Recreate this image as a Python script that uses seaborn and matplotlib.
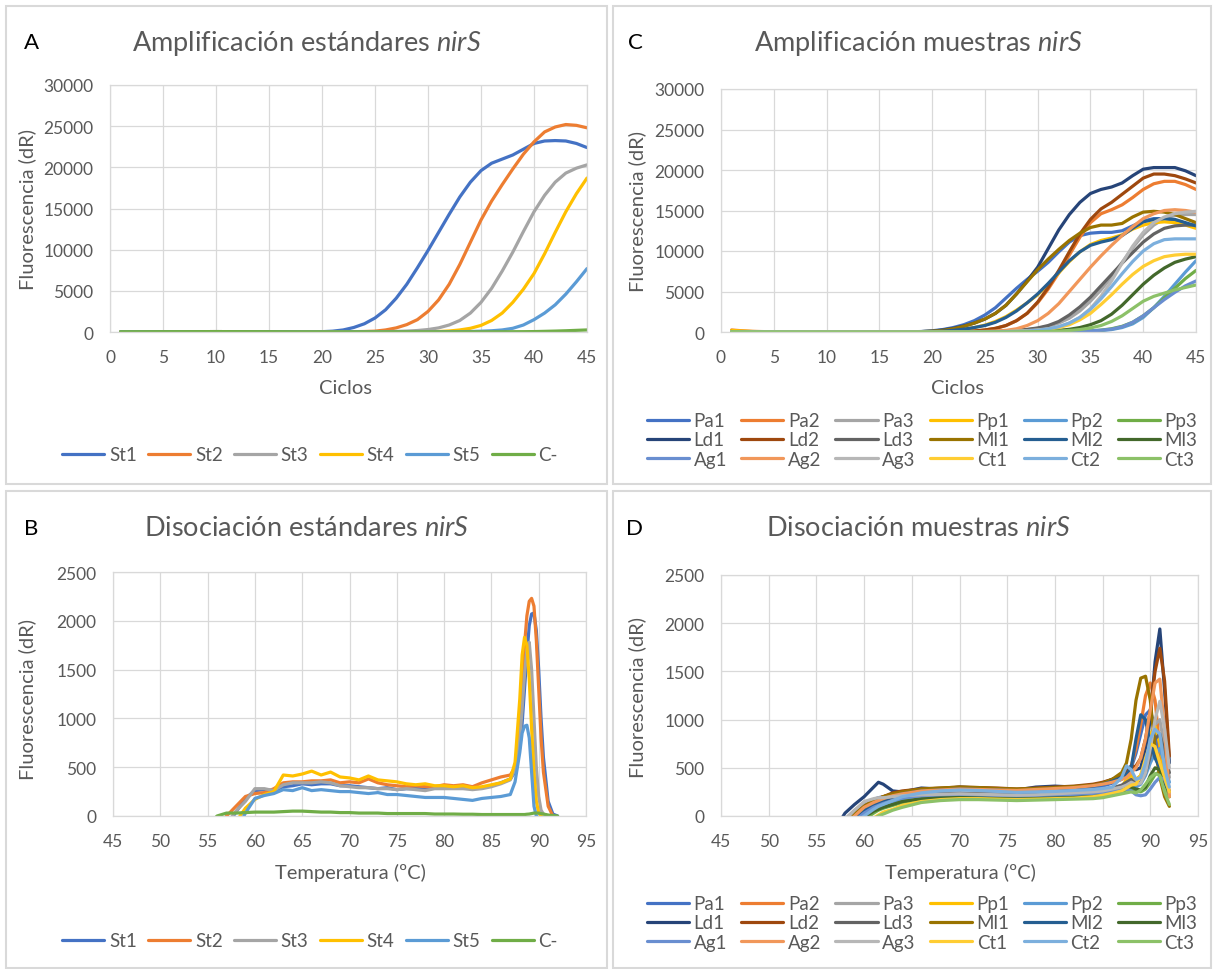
import matplotlib
matplotlib.use("Agg")
import matplotlib.pyplot as plt
import seaborn as sns
import pandas as pd
from matplotlib.lines import Line2D
from matplotlib.patches import Rectangle

# ---------------- data ----------------
CYC_A = [1, 5, 10, 15, 18, 19,
         20, 21, 22, 23, 24, 25, 26, 27, 28, 29,
         30, 31, 32, 33, 34, 35, 36, 37, 38, 39,
         40, 41, 42, 43, 44, 45]
STD_NAMES = ["St1", "St2", "St3", "St4", "St5", "C-"]
STD_COLORS = ["#4472C4", "#ED7D31", "#A5A5A5", "#FFC000", "#5B9BD5", "#70AD47"]
ST1_A = [30, 40, 50, 40, 20, 20,
         40, 100, 250, 550, 1000, 1700, 2700, 4100, 5800, 7800,
         9900, 12100, 14300, 16400, 18200, 19600, 20500, 21000, 21500, 22200,
         22900, 23200, 23250, 23200, 22900, 22400]
ST2_A = [30, 40, 50, 40, 20, 20,
         20, 20, 30, 40, 60, 100, 250, 500, 900, 1500,
         2500, 3900, 5800, 8200, 10900, 13600, 15900, 17900, 19800, 21600,
         23100, 24300, 24900, 25200, 25100, 24800]
ST3_A = [30, 40, 50, 40, 20, 20,
         20, 20, 20, 20, 20, 30, 40, 70, 110, 180,
         300, 500, 850, 1400, 2300, 3600, 5300, 7400, 9700, 12200,
         14600, 16600, 18200, 19300, 19900, 20300]
ST4_A = [30, 40, 50, 40, 20, 20,
         20, 20, 20, 20, 20, 20, 20, 20, 20, 25,
         30, 60, 120, 250, 450, 800, 1400, 2300, 3600, 5200,
         7100, 9500, 12100, 14600, 16800, 18700]
ST5_A = [30, 40, 50, 40, 20, 20,
         20, 20, 20, 20, 20, 20, 20, 20, 20, 20,
         20, 25, 30, 40, 60, 100, 150, 250, 450, 850,
         1500, 2300, 3300, 4600, 6100, 7700]
CNEG_A = [30, 40, 50, 40, 20, 20,
          20, 20, 20, 20, 20, 20, 20, 20, 20, 20,
          20, 20, 20, 20, 20, 20, 25, 30, 35, 40,
          50, 80, 110, 150, 200, 250]

SAMPLE_NAMES = ["Pa1", "Pa2", "Pa3", "Pp1", "Pp2", "Pp3",
                "Ld1", "Ld2", "Ld3", "Ml1", "Ml2", "Ml3",
                "Ag1", "Ag2", "Ag3", "Ct1", "Ct2", "Ct3"]
SAMPLE_COLORS = ["#4472C4", "#ED7D31", "#A5A5A5", "#FFC000", "#5B9BD5", "#70AD47",
                 "#264478", "#9E480E", "#636363", "#997300", "#255E91", "#43682B",
                 "#698ED0", "#F1975A", "#B7B7B7", "#FFCD33", "#7CAFDD", "#8CC168"]

CYC_C = [1, 2, 3, 5, 10, 15, 18, 19,
         20, 21, 22, 23, 24, 25, 26, 27, 28, 29,
         30, 31, 32, 33, 34, 35, 36, 37, 38, 39,
         40, 41, 42, 43, 44, 45]
PA1_C = [60, 40, 20, 10, 0, 0, 20, 60,
         150, 300, 550, 900, 1400, 2100, 3000, 4200, 5400, 6500,
         7500, 8600, 9900, 11100, 11900, 12200, 12300, 12300, 12500, 13100,
         13700, 14000, 14000, 13800, 13400, 13000]
PA2_C = [250, 150, 80, 20, 0, 0, 0, 0,
         0, 10, 30, 60, 120, 250, 450, 800, 1400, 2300,
         3600, 5300, 7300, 9500, 11700, 13500, 14600, 15100, 15700, 16600,
         17600, 18300, 18600, 18600, 18200, 17600]
PA3_C = [50, 30, 20, 10, 0, 0, 0, 0,
         0, 0, 0, 10, 20, 40, 80, 130, 200, 300,
         450, 700, 1100, 1700, 2600, 3800, 5200, 6800, 8600, 10400,
         12000, 13200, 14000, 14400, 14500, 14500]
PP1_C = [200, 120, 60, 10, 0, 0, 10, 20,
         50, 100, 200, 350, 550, 850, 1300, 1900, 2700, 3600,
         4600, 5900, 7300, 8700, 9900, 10800, 11300, 11600, 12000, 12700,
         13200, 13500, 13600, 13500, 13200, 12800]
PP2_C = [50, 30, 20, 10, 0, 0, 0, 0,
         0, 0, 0, 0, 0, 0, 0, 0, 10, 10,
         20, 30, 40, 50, 70, 100, 170, 300, 550, 1000,
         1800, 3000, 4400, 5900, 7400, 8800]
PP3_C = [50, 30, 20, 10, 0, 0, 0, 0,
         0, 0, 0, 0, 0, 0, 0, 0, 10, 10,
         20, 30, 40, 60, 90, 140, 230, 400, 700, 1200,
         2000, 3000, 4200, 5400, 6600, 7600]
LD1_C = [50, 30, 20, 10, 0, 0, 20, 50,
         100, 250, 450, 750, 1100, 1600, 2300, 3300, 4700, 6300,
         8000, 10300, 12600, 14500, 16000, 17100, 17600, 17900, 18400, 19300,
         20100, 20300, 20300, 20300, 19900, 19300]
LD2_C = [50, 30, 20, 10, 0, 0, 0, 0,
         0, 10, 30, 60, 120, 250, 450, 800, 1400, 2300,
         3700, 5500, 7600, 9900, 12100, 13900, 15200, 16000, 17000, 18000,
         19000, 19500, 19500, 19300, 18900, 18400]
LD3_C = [50, 30, 20, 10, 0, 0, 0, 0,
         0, 0, 0, 10, 20, 40, 70, 120, 200, 320,
         500, 800, 1300, 2100, 3100, 4300, 5700, 7100, 8500, 9800,
         11100, 12100, 12800, 13100, 13200, 13200]
ML1_C = [50, 30, 20, 10, 0, 0, 20, 50,
         100, 200, 400, 700, 1100, 1600, 2300, 3300, 4700, 6200,
         7700, 9000, 10200, 11300, 12200, 12900, 13200, 13200, 13400, 14200,
         14800, 14900, 14800, 14500, 14000, 13500]
ML2_C = [50, 30, 20, 10, 0, 0, 10, 20,
         50, 100, 200, 350, 550, 800, 1200, 1800, 2600, 3600,
         4700, 6000, 7400, 8800, 9900, 10700, 11100, 11400, 11900, 12800,
         13600, 13900, 14000, 13900, 13500, 13100]
ML3_C = [50, 30, 20, 10, 0, 0, 0, 0,
         0, 0, 0, 0, 0, 10, 10, 20, 30, 50,
         80, 130, 200, 330, 550, 900, 1400, 2200, 3300, 4600,
         5900, 7000, 7900, 8600, 9000, 9300]
AG1_C = [50, 30, 20, 10, 0, 0, 0, 0,
         0, 0, 0, 0, 0, 0, 0, 0, 10, 10,
         20, 30, 40, 60, 90, 140, 220, 350, 650, 1200,
         2000, 3000, 4000, 4900, 5700, 6300]
AG2_C = [50, 30, 20, 10, 0, 0, 0, 0,
         0, 0, 10, 20, 40, 70, 120, 200, 400, 800,
         1400, 2300, 3500, 5000, 6500, 8000, 9400, 10700, 11900, 13000,
         14000, 14600, 15000, 15100, 15000, 14800]
AG3_C = [50, 30, 20, 10, 0, 0, 0, 0,
         0, 0, 0, 0, 10, 20, 40, 70, 110, 170,
         260, 400, 650, 1100, 1800, 2900, 4400, 6300, 8500, 10600,
         12300, 13500, 14200, 14600, 14800, 14900]
CT1_C = [50, 30, 20, 10, 0, 0, 0, 0,
         0, 0, 0, 0, 10, 20, 30, 50, 80, 130,
         200, 330, 550, 900, 1500, 2300, 3400, 4600, 5900, 7100,
         8100, 8800, 9300, 9500, 9600, 9600]
CT2_C = [50, 30, 20, 10, 0, 0, 0, 0,
         0, 0, 0, 0, 10, 20, 30, 50, 80, 130,
         220, 380, 650, 1100, 1800, 2800, 4100, 5600, 7200, 8700,
         10000, 10900, 11400, 11500, 11500, 11500]
CT3_C = [50, 30, 20, 10, 0, 0, 0, 0,
         0, 0, 0, 0, 0, 0, 10, 10, 20, 30,
         50, 80, 120, 190, 300, 500, 800, 1300, 2000, 2900,
         3800, 4400, 4800, 5200, 5500, 5800]

TEMP_B = [55.5, 56,
          57, 58, 59, 60, 61, 62, 63, 64, 65, 66, 67, 68, 69, 70, 71, 72,
          73, 74, 75, 76, 77, 78, 79, 80, 81, 82, 83, 84, 85, 86, 87,
          87.5, 88, 88.25, 88.5, 88.75, 89, 89.25, 89.5, 89.75, 90, 90.25, 90.5,
          91, 91.5, 92]
ST1_B = [-300, -250,
         -100, 40, 180, 260, 270, 260, 300, 310, 330, 320, 330, 330, 310, 310, 300, 290,
         280, 290, 270, 280, 280, 280, 290, 290, 290, 290, 280, 290, 310, 340, 380,
         450, 700, 950, 1300, 1650, 1950, 2070, 2080, 1900, 1500, 1000, 600,
         150, 20, 0]
ST2_B = [-300, -200,
         0, 100, 200, 230, 240, 280, 340, 350, 350, 360, 360, 370, 340, 350, 340, 380,
         340, 320, 310, 300, 310, 300, 300, 320, 310, 320, 300, 340, 370, 400, 420,
         500, 900, 1300, 1750, 2050, 2200, 2230, 2150, 1800, 1300, 800, 450,
         100, 0, -50]
ST3_B = [-350, -300,
         -80, 50, 150, 280, 280, 260, 320, 340, 340, 340, 350, 340, 310, 300, 290, 290,
         280, 280, 270, 280, 270, 260, 280, 280, 280, 280, 270, 280, 300, 330, 370,
         480, 800, 1100, 1450, 1700, 1780, 1500, 1000, 500, 200, 60, 20,
         0, -20, -30]
ST4_B = [-400, -350,
         -200, -60, 80, 170, 220, 250, 420, 410, 430, 460, 420, 450, 400, 390, 370, 410,
         370, 360, 350, 330, 320, 330, 310, 310, 300, 310, 290, 300, 320, 340, 380,
         550, 1200, 1650, 1830, 1750, 1400, 900, 450, 150, 30, 0, -20,
         -30, -30, -30]
ST5_B = [-500, -450,
         -300, -150, 30, 180, 210, 230, 270, 260, 290, 260, 270, 260, 250, 250, 240, 230,
         240, 220, 220, 210, 200, 190, 190, 190, 180, 170, 160, 180, 190, 200, 220,
         350, 650, 850, 920, 930, 800, 450, 100, 0, -20, -30, -30,
         -30, -30, -30]
CNEG_B = [-50, 0,
          30, 30, 35, 40, 40, 40, 45, 50, 50, 45, 40, 40, 35, 35, 30, 30,
          30, 25, 25, 25, 25, 25, 20, 20, 20, 18, 18, 15, 15, 15, 15,
          15, 15, 15, 15, 18, 20, 25, 30, 30, 30, 25, 20,
          10, 5, 0]

TEMP_D = [57.5, 58, 59, 60, 61, 61.5, 62, 63,
          64, 66, 68, 70, 72, 74, 76, 78,
          80, 82, 84, 85, 86, 87, 87.5, 88,
          88.5, 89, 89.5, 90, 90.5, 91, 91.5, 92]
PA1_D = [-150, -60, 40, 120, 170, 190, 200, 220,
         240, 260, 270, 280, 270, 260, 250, 255,
         265, 275, 290, 310, 340, 380, 420, 500,
         650, 850, 1050, 1100, 900, 600, 350, 250]
PA2_D = [-200, -120, 0, 100, 160, 180, 200, 230,
         250, 270, 280, 290, 285, 280, 270, 280,
         290, 300, 320, 340, 370, 400, 430, 520,
         700, 950, 1250, 1380, 1200, 700, 350, 200]
PA3_D = [-100, -30, 60, 130, 170, 180, 190, 210,
         220, 230, 240, 240, 235, 230, 225, 230,
         240, 250, 260, 270, 290, 310, 330, 340,
         360, 420, 550, 750, 950, 1000, 700, 400]
PP1_D = [-250, -200, -100, -20, 50, 80, 100, 130,
         160, 190, 200, 205, 205, 200, 195, 200,
         205, 210, 220, 235, 260, 300, 380, 420,
         380, 420, 600, 850, 930, 750, 450, 250]
PP2_D = [-250, -180, -80, 0, 60, 90, 110, 150,
         180, 210, 220, 225, 220, 215, 210, 220,
         225, 235, 245, 255, 270, 300, 320, 330,
         300, 330, 420, 550, 650, 700, 550, 350]
PP3_D = [-250, -200, -120, -40, 30, 60, 80, 110,
         140, 170, 185, 190, 190, 185, 180, 185,
         190, 195, 205, 215, 230, 250, 270, 280,
         260, 250, 280, 350, 430, 460, 350, 200]
LD1_D = [-50, 30, 120, 200, 300, 350, 330, 260,
         250, 290, 280, 300, 290, 280, 270, 300,
         310, 300, 320, 340, 380, 420, 460, 520,
         480, 500, 700, 1000, 1600, 1940, 1300, 550]
LD2_D = [-150, -80, 20, 100, 160, 180, 200, 240,
         260, 280, 290, 300, 295, 290, 280, 290,
         300, 310, 330, 350, 380, 420, 450, 500,
         520, 600, 800, 1100, 1500, 1740, 1400, 620]
LD3_D = [-200, -120, -30, 50, 110, 130, 150, 180,
         200, 220, 230, 235, 230, 225, 220, 225,
         230, 240, 250, 265, 290, 320, 350, 380,
         330, 350, 450, 620, 800, 850, 650, 450]
ML1_D = [-150, -80, 20, 100, 160, 180, 200, 230,
         250, 280, 290, 300, 295, 285, 280, 285,
         295, 305, 320, 340, 380, 450, 550, 800,
         1200, 1430, 1450, 1200, 700, 400, 200, 100]
ML2_D = [-200, -120, -20, 60, 120, 140, 160, 200,
         230, 260, 270, 280, 275, 270, 260, 270,
         280, 290, 310, 330, 360, 400, 430, 500,
         800, 1050, 1000, 750, 600, 500, 350, 250]
ML3_D = [-250, -180, -90, -10, 50, 70, 90, 120,
         150, 180, 195, 200, 200, 195, 190, 195,
         200, 210, 220, 235, 250, 270, 290, 300,
         280, 270, 300, 420, 500, 480, 350, 250]
AG1_D = [-200, -140, -50, 30, 90, 110, 130, 160,
         190, 210, 220, 225, 220, 215, 210, 215,
         220, 225, 235, 245, 255, 270, 280, 260,
         220, 210, 220, 280, 350, 400, 380, 250]
AG2_D = [-180, -100, 0, 90, 140, 160, 180, 210,
         230, 260, 270, 280, 275, 270, 265, 275,
         285, 295, 315, 330, 350, 380, 400, 450,
         500, 600, 800, 1100, 1380, 1420, 900, 200]
AG3_D = [-120, -40, 60, 150, 180, 190, 190, 200,
         210, 220, 225, 230, 225, 220, 215, 220,
         230, 240, 250, 260, 280, 300, 320, 350,
         330, 340, 450, 700, 1000, 1190, 900, 500]
CT1_D = [-300, -250, -170, -90, -20, 10, 40, 70,
         110, 150, 170, 180, 180, 175, 170, 175,
         180, 185, 200, 215, 235, 260, 290, 320,
         330, 420, 600, 750, 720, 550, 400, 250]
CT2_D = [-250, -180, -90, 0, 70, 100, 120, 160,
         200, 240, 260, 270, 265, 255, 245, 250,
         255, 265, 275, 285, 300, 400, 520, 480,
         380, 400, 550, 800, 900, 850, 500, 300]
CT3_D = [-300, -260, -180, -100, -30, 0, 20, 60,
         90, 140, 160, 170, 170, 165, 160, 165,
         170, 175, 180, 190, 210, 230, 240, 250,
         240, 270, 330, 400, 440, 420, 250, 120]

STD_A = [ST1_A, ST2_A, ST3_A, ST4_A, ST5_A, CNEG_A]
STD_B = [ST1_B, ST2_B, ST3_B, ST4_B, ST5_B, CNEG_B]
SAM_C = [PA1_C, PA2_C, PA3_C, PP1_C, PP2_C, PP3_C, LD1_C, LD2_C, LD3_C,
         ML1_C, ML2_C, ML3_C, AG1_C, AG2_C, AG3_C, CT1_C, CT2_C, CT3_C]
SAM_D = [PA1_D, PA2_D, PA3_D, PP1_D, PP2_D, PP3_D, LD1_D, LD2_D, LD3_D,
         ML1_D, ML2_D, ML3_D, AG1_D, AG2_D, AG3_D, CT1_D, CT2_D, CT3_D]

# ---------------- style ----------------
sns.set_style("white")
plt.rcParams["font.family"] = ["Lato", "DejaVu Sans"]
plt.rcParams["mathtext.fontset"] = "custom"
plt.rcParams["mathtext.rm"] = "Lato"
plt.rcParams["mathtext.it"] = "Lato:italic"

GRAY_TXT = "#595959"
GRID = "#D9D9D9"
W, H = 1215, 970
fig = plt.figure(figsize=(W / 100, H / 100), dpi=100)
fig.patch.set_facecolor("white")


def box(l, t, r, b):
    return [l / W, 1 - b / H, (r - l) / W, (b - t) / H]


def fx(x):
    return x / W


def fy(y):
    return 1 - y / H


def long_df(x, names, series):
    frames = []
    for n, s in zip(names, series):
        frames.append(pd.DataFrame({"x": x, "y": s, "serie": n}))
    return pd.concat(frames, ignore_index=True)


def draw(ax, x, names, colors, series):
    df = long_df(x, names, series)
    sns.lineplot(data=df, x="x", y="y", hue="serie", hue_order=names,
                 palette=dict(zip(names, colors)), estimator=None, sort=False,
                 linewidth=2.3, legend=False, ax=ax)


def style(ax, xlim, xticks, ylim, yticks):
    ax.set_xlim(*xlim)
    ax.set_ylim(*ylim)
    ax.set_xticks(xticks)
    ax.set_yticks(yticks)
    ax.grid(True, color=GRID, linewidth=0.9)
    ax.set_axisbelow(True)
    for s in ax.spines.values():
        s.set_color(GRID)
        s.set_linewidth(0.9)
    ax.tick_params(length=0, labelsize=12.5, labelcolor=GRAY_TXT)
    ax.tick_params(axis="x", pad=12)
    ax.tick_params(axis="y", pad=12)
    ax.set_xlabel("")
    ax.set_ylabel("")


def legend(ax, names, colors, cx, cy, nrows, colspacing):
    handles = [Line2D([], [], color=c, lw=2.3) for c in colors]
    labels = list(names)
    if nrows > 1:
        order = [r * 6 + c for c in range(6) for r in range(nrows)]
        handles = [handles[i] for i in order]
        labels = [labels[i] for i in order]
    leg = ax.legend(handles, labels, loc="center", bbox_to_anchor=(fx(cx), fy(cy)),
                    bbox_transform=fig.transFigure, ncol=6, frameon=False,
                    fontsize=13.5, handlelength=2.25, handletextpad=0.25,
                    columnspacing=colspacing, labelspacing=0.12, borderpad=0)
    for t in leg.get_texts():
        t.set_color(GRAY_TXT)


def panel_text(letter, title, lx, ty, tx, ylab_xy, xlab, xlab_xy):
    fig.text(fx(lx), fy(ty), letter, ha="center", va="center", fontsize=16, color="black")
    fig.text(fx(tx), fy(ty), title, ha="center", va="center", fontsize=19.5, color=GRAY_TXT)
    fig.text(fx(ylab_xy[0]), fy(ylab_xy[1]), "Fluorescencia (dR)", ha="center", va="center",
             rotation=90, fontsize=14.5, color=GRAY_TXT)
    fig.text(fx(xlab_xy[0]), fy(xlab_xy[1]), xlab, ha="center", va="center",
             fontsize=14.5, color=GRAY_TXT)


# panel frames
for (l, t, r, b) in [(6, 7, 607, 485), (613, 7, 1211, 485), (6, 492, 607, 969), (613, 492, 1211, 969)]:
    fig.add_artist(Rectangle((fx(l), fy(b)), (r - l) / W, (b - t) / H, transform=fig.transFigure,
                             fill=False, edgecolor=GRID, linewidth=1.5))

# Panel A
axA = fig.add_axes(box(110, 86, 587, 333))
draw(axA, CYC_A, STD_NAMES, STD_COLORS, STD_A)
style(axA, (0, 45), range(0, 46, 5), (0, 30000), range(0, 30001, 5000))
legend(axA, STD_NAMES, STD_COLORS, 310, 456, 1, 0.6)
panel_text("A", "Amplificación estándares $\\mathit{nirS}$", 31, 43, 307, (27, 210), "Ciclos", (346, 388))

# Panel C
axC = fig.add_axes(box(721, 90, 1196, 333))
draw(axC, CYC_C, SAMPLE_NAMES, SAMPLE_COLORS, SAM_C)
style(axC, (0, 45), range(0, 46, 5), (0, 30000), range(0, 30001, 5000))
legend(axC, SAMPLE_NAMES, SAMPLE_COLORS, 922, 441, 3, 0.75)
panel_text("C", "Amplificación muestras $\\mathit{nirS}$", 635, 43, 918, (637, 211), "Ciclos", (957, 389))

# Panel B
axB = fig.add_axes(box(113, 573, 586, 817))
draw(axB, TEMP_B, STD_NAMES, STD_COLORS, STD_B)
style(axB, (45, 95), range(45, 96, 5), (0, 2500), range(0, 2501, 500))
legend(axB, STD_NAMES, STD_COLORS, 310, 942, 1, 0.6)
panel_text("B", "Disociación estándares $\\mathit{nirS}$", 31, 529, 307, (27, 700), "Temperatura (ºC)", (350, 873))

# Panel D
axD = fig.add_axes(box(721, 576, 1198, 817))
draw(axD, TEMP_D, SAMPLE_NAMES, SAMPLE_COLORS, SAM_D)
style(axD, (45, 95), range(45, 96, 5), (0, 2500), range(0, 2501, 500))
legend(axD, SAMPLE_NAMES, SAMPLE_COLORS, 922, 924, 3, 0.75)
panel_text("D", "Disociación muestras $\\mathit{nirS}$", 635, 529, 918, (637, 697), "Temperatura (ºC)", (960, 873))

fig.savefig("out.png", dpi=100, facecolor="white")
